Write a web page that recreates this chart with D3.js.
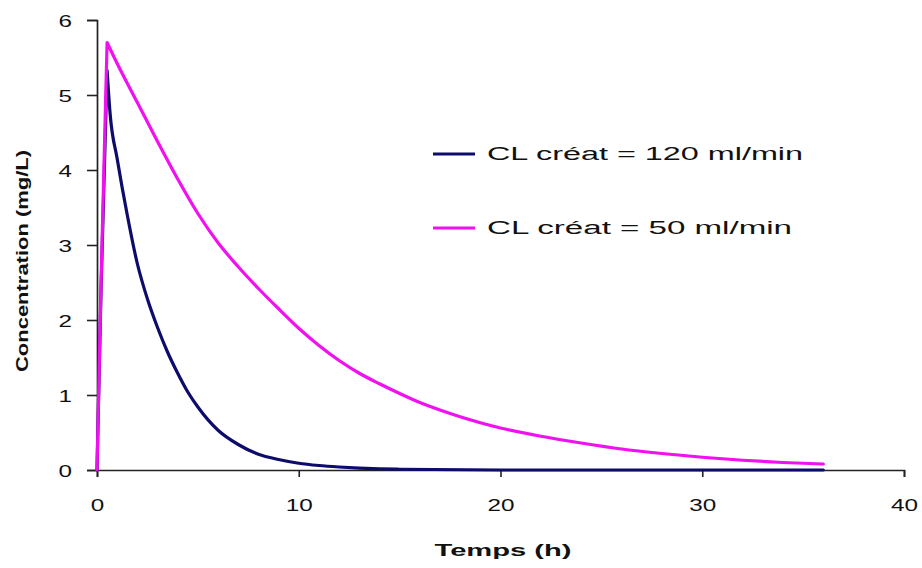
<!DOCTYPE html>
<html>
<head>
<meta charset="utf-8">
<script src="https://cdn.jsdelivr.net/npm/d3@7"></script>
<style>
  html, body { margin: 0; padding: 0; background: #fff; }
  svg { display: block; }
  text { font-family: "Liberation Sans", Arial, sans-serif; fill: #111; }
</style>
</head>
<body>
<svg id="chart" width="922" height="568"></svg>
<script>
// Concentration–time profiles for two creatinine clearances
const seriesNames = ["CL créat = 120 ml/min", "CL créat = 50 ml/min"];
const seriesColors = ["#0e0c6a", "#f010f0"];

const temps120 = [0, 0.2, 0.5, 0.65, 1, 1.5, 2, 2.5, 3, 3.5, 4, 4.5, 5, 6, 7, 8, 9, 10, 11, 12, 13, 14, 15, 20, 25, 30, 36];
const conc120  = [0, 2.4, 5.33, 4.75, 4.15, 3.4, 2.75, 2.28, 1.9, 1.57, 1.29, 1.04, 0.84, 0.53, 0.34, 0.21, 0.14, 0.09, 0.06, 0.04, 0.025, 0.015, 0.01, 0, 0, 0, 0];

const temps50 = [0, 0.2, 0.5, 1, 2, 3, 4, 5, 6, 7, 8, 9, 10, 11, 12, 13, 14, 15, 16, 17, 18, 19, 20, 22, 24, 26, 28, 30, 32, 34, 36];
const conc50  = [0, 2.5, 5.7, 5.42, 4.9, 4.38, 3.88, 3.42, 3.03, 2.71, 2.42, 2.15, 1.89, 1.66, 1.46, 1.29, 1.15, 1.02, 0.9, 0.8, 0.71, 0.63, 0.56, 0.45, 0.36, 0.28, 0.22, 0.17, 0.13, 0.1, 0.08];

const xTicks = [0, 10, 20, 30, 40];
const yTicks = [0, 1, 2, 3, 4, 5, 6];
const xTitle = "Temps (h)";
const yTitle = "Concentration (mg/L)";

const svg = d3.select("#chart");

const x = d3.scaleLinear().domain([0, 40]).range([97, 904]);
const y = d3.scaleLinear().domain([0, 6]).range([470, 20]);

// Axes
const yAxis = svg.append("g")
  .attr("transform", `translate(${x(0)},0)`)
  .call(d3.axisLeft(y).tickValues(yTicks).tickFormat(d3.format("d")).tickSize(10).tickPadding(15));
const xAxis = svg.append("g")
  .attr("transform", `translate(0,${y(0)})`)
  .call(d3.axisBottom(x).tickValues(xTicks).tickFormat(d3.format("d")).tickSize(7).tickPadding(22));

[yAxis, xAxis].forEach(g => {
  g.select(".domain").attr("stroke", "#222").attr("stroke-width", 1.7);
  g.selectAll(".tick line").attr("stroke", "#222").attr("stroke-width", 1.6);
  g.selectAll(".tick text")
    .attr("font-size", 17)
    .attr("fill", "#111")
    .attr("font-family", "Liberation Sans, Arial, sans-serif")
    .attr("lengthAdjust", "spacingAndGlyphs")
    .attr("textLength", d => String(d).length * 13.5);
});
yAxis.selectAll(".tick text").attr("dy", "0.36em");

// Axis titles
svg.append("text")
  .attr("x", 503).attr("y", 556)
  .attr("text-anchor", "middle")
  .attr("font-size", 16).attr("font-weight", "bold")
  .attr("lengthAdjust", "spacingAndGlyphs").attr("textLength", 137)
  .text(xTitle);

svg.append("text")
  .attr("transform", "translate(28,261) rotate(-90)")
  .attr("text-anchor", "middle")
  .attr("font-size", 16).attr("font-weight", "bold")
  .attr("lengthAdjust", "spacingAndGlyphs").attr("textLength", 222)
  .text(yTitle);

// Curves: straight infusion rise up to the peak, smooth decay afterwards
const riseLine = d3.line().x(d => x(d[0])).y(d => y(d[1]));
const decayLine = d3.line().x(d => x(d[0])).y(d => y(d[1])).curve(d3.curveMonotoneX);
const series = [
  d3.zip(temps120, conc120),
  d3.zip(temps50, conc50)
];
series.forEach((pts, i) => {
  const peak = d3.maxIndex(pts, d => d[1]);
  const path = riseLine(pts.slice(0, peak + 1)) + decayLine(pts.slice(peak)).replace(/^M[^CL]*/, "");
  svg.append("path")
    .attr("fill", "none")
    .attr("stroke", seriesColors[i])
    .attr("stroke-width", 3.2)
    .attr("stroke-linejoin", "round")
    .attr("stroke-linecap", "round")
    .attr("d", path);
});

// Legend
const legendY = [154, 228];
const legendLen = [316, 305];
seriesNames.forEach((name, i) => {
  svg.append("line")
    .attr("x1", 433).attr("x2", 475)
    .attr("y1", legendY[i]).attr("y2", legendY[i])
    .attr("stroke", seriesColors[i]).attr("stroke-width", 3.2);
  svg.append("text")
    .attr("x", 487).attr("y", legendY[i])
    .attr("dy", "0.36em")
    .attr("font-size", 18)
    .attr("lengthAdjust", "spacingAndGlyphs").attr("textLength", legendLen[i])
    .text(name);
});
</script>
</body>
</html>
